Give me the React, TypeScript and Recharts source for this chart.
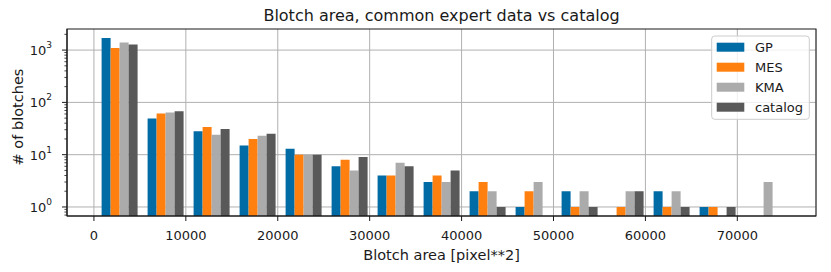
import React from "react";
import { BarChart, Bar, XAxis, YAxis, CartesianGrid } from "recharts";

// lower edge of each histogram bin (pixel**2)
const binStarts = [
  316, 5321, 10326, 15331, 20336, 25341, 30346, 35351, 40356, 45361, 50366, 55371, 60376, 65381, 70386,
];

// counts per bin, 0 = empty bin
const gpCounts = [1700, 49, 28, 15, 13, 6, 4, 3, 2, 1, 2, 0, 2, 1, 0];
const mesCounts = [1090, 61, 34, 20, 10, 8, 4, 4, 3, 2, 1, 1, 1, 1, 0];
const kmaCounts = [1400, 64, 24, 23, 10, 5, 7, 3, 2, 3, 2, 2, 2, 0, 3];
const catalogCounts = [1280, 68, 31, 25, 10, 9, 6, 5, 1, 0, 1, 2, 1, 1, 0];

const seriesNames = ["GP", "MES", "KMA", "catalog"];
const seriesColors = ["#006BA4", "#FF800E", "#ABABAB", "#595959"];
const seriesCounts = [gpCounts, mesCounts, kmaCounts, catalogCounts];

const xTicks = [0, 10000, 20000, 30000, 40000, 50000, 60000, 70000];
const yMajorTicks = [1, 10, 100, 1000];
const yMinorTicks = [
  0.7, 0.8, 0.9, 2, 3, 4, 5, 6, 7, 8, 9, 20, 30, 40, 50, 60, 70, 80, 90,
  200, 300, 400, 500, 600, 700, 800, 900, 2000,
];

const W = 831;
const H = 272;
const MARGIN = { top: 29, right: 15, bottom: 26, left: 0 };
const Y_AXIS_W = 67;
const X_AXIS_H = 30;
const TICK_SIZE = 5;
const TICK_MARGIN = 10;

const PL = MARGIN.left + Y_AXIS_W;
const PR = W - MARGIN.right;
const PT = MARGIN.top;
const PB = H - MARGIN.bottom - X_AXIS_H;
const FONT = "'DejaVu Sans', sans-serif";
const INK = "#1a1a1a";

const data = binStarts.map((lo, i) => {
  const row: Record<string, number | null> = { bin: i, lo };
  seriesNames.forEach((name, s) => {
    const v = seriesCounts[s][i];
    row[name] = v > 0 ? v : null;
  });
  return row;
});

const YTick = (props: any) => {
  const { x, y, payload } = props;
  const v = payload.value;
  const axisX = x + TICK_SIZE + TICK_MARGIN;
  const major = yMajorTicks.includes(v);
  const len = major ? 5 : 2.6;
  return (
    <g>
      <line x1={axisX - len} x2={axisX} y1={y} y2={y} stroke={INK} strokeWidth={major ? 1 : 0.8} />
      {major && (
        <text x={x} y={y + 5} textAnchor="end" fontSize={13} fill={INK} fontFamily={FONT}>
          10
          <tspan dy={-7} fontSize={9}>
            {Math.round(Math.log10(v))}
          </tspan>
        </text>
      )}
    </g>
  );
};

export default function App() {
  return (
    <div style={{ position: "absolute", left: 0, top: 0, width: W, height: H, background: "#fff" }}>
      <BarChart
        width={W}
        height={H}
        data={data}
        margin={MARGIN}
        barGap={0}
        barCategoryGap="10%"
        style={{ fontFamily: FONT }}
      >
        <CartesianGrid
          xAxisId="num"
          yAxisId="main"
          stroke="#b0b0b0"
          strokeWidth={1}
          horizontalValues={yMajorTicks}
        />
        <XAxis xAxisId="cat" dataKey="bin" type="category" hide height={0} padding={{ left: 30, right: 29 }} />
        <XAxis
          xAxisId="num"
          dataKey="lo"
          type="number"
          domain={[-2930, 78560]}
          allowDataOverflow
          ticks={xTicks}
          interval={0}
          height={X_AXIS_H}
          tickSize={TICK_SIZE}
          tickMargin={TICK_MARGIN}
          stroke={INK}
          tick={{ fill: INK, fontSize: 13, fontFamily: FONT }}
        />
        <YAxis
          yAxisId="main"
          type="number"
          scale="log"
          domain={[0.672, 2530]}
          allowDataOverflow
          ticks={[...yMajorTicks, ...yMinorTicks]}
          interval={0}
          width={Y_AXIS_W}
          tickSize={TICK_SIZE}
          tickMargin={TICK_MARGIN}
          tickLine={false}
          stroke={INK}
          tick={<YTick />}
        />
        {seriesNames.map((name, s) => (
          <Bar
            key={name}
            dataKey={name}
            xAxisId="cat"
            yAxisId="main"
            fill={seriesColors[s]}
            isAnimationActive={false}
          />
        ))}
      </BarChart>
      <svg
        width={W}
        height={H}
        style={{ position: "absolute", left: 0, top: 0, pointerEvents: "none", fontFamily: FONT }}
      >
        <rect x={PL} y={PT} width={PR - PL} height={PB - PT} fill="none" stroke={INK} strokeWidth={1} />
        <text x={(PL + PR) / 2} y={20.7} textAnchor="middle" fontSize={16} fill={INK}>
          Blotch area, common expert data vs catalog
        </text>
        <text x={(PL + PR) / 2} y={260} textAnchor="middle" fontSize={14.5} fill={INK}>
          Blotch area [pixel**2]
        </text>
        <text transform="translate(23,117) rotate(-90)" textAnchor="middle" fontSize={14.5} fill={INK}>
          # of blotches
        </text>
        <rect x={711.7} y={36} width={97.6} height={83.3} rx={3} fill="#fff" fillOpacity={0.8} stroke="#cccccc" />
        {seriesNames.map((name, s) => (
          <g key={name}>
            <rect x={716.7} y={42.7 + 20 * s} width={27.6} height={9} fill={seriesColors[s]} />
            <text x={755} y={52 + 20 * s} fontSize={13} fill={INK}>
              {name}
            </text>
          </g>
        ))}
      </svg>
    </div>
  );
}
